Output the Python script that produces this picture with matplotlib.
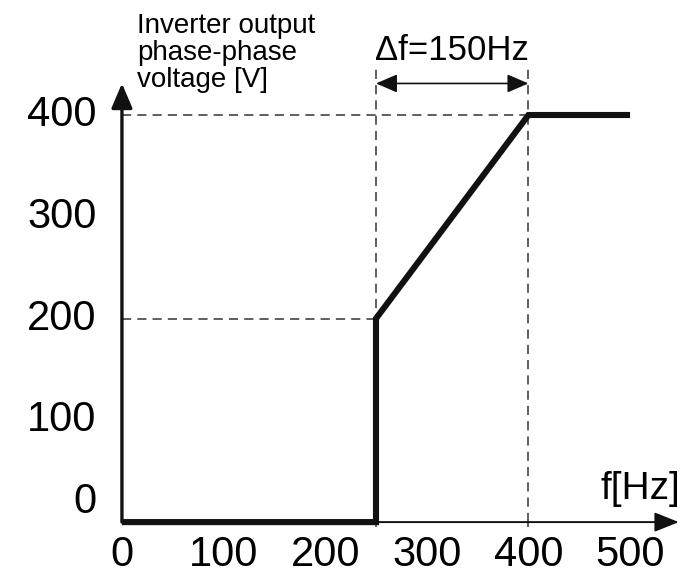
import matplotlib.pyplot as plt

plt.rcParams['font.family'] = ['Liberation Sans', 'DejaVu Sans']

# characteristic: voltage vs frequency
freq_hz = [0, 250, 250, 400, 500]
volt_v = [0, 0, 200, 400, 400]

x_ticks = [0, 100, 200, 300, 400, 500]
y_ticks = [0, 100, 200, 300, 400]
f_start, f_end = 250, 400   # delta f range
v_start, v_end = 200, 400

y_label = "Inverter output\nphase-phase\nvoltage [V]"
x_label = "f[Hz]"
delta_label = "\u0394f=150Hz"

fig = plt.figure(figsize=(6.9, 5.74), dpi=100)
ax = fig.add_axes([0, 0, 1, 1])
ax.set_xlim(-120, 559)
ax.set_ylim(-51, 513)
ax.axis('off')

dash = dict(color='#333333', lw=1.1, dashes=(6, 4))
# guide lines
ax.plot([0, f_end], [v_end, v_end], **dash)
ax.plot([0, f_start], [v_start, v_start], **dash)
ax.plot([f_start, f_start], [0, 447], **dash)
ax.plot([f_end, f_end], [0, 447], **dash)
ax.vlines([f_start, f_end], -5, 0, color='#333333', lw=1.1)

# axes with arrows
ax.annotate('', xy=(548, 0), xytext=(0, 0),
            arrowprops=dict(arrowstyle='-|>,head_length=0.75,head_width=0.3',
                            mutation_scale=20, lw=1.4, color='#111111',
                            shrinkA=0, shrinkB=0))
ax.annotate('', xy=(0, 431), xytext=(0, 0),
            arrowprops=dict(arrowstyle='-|>,head_length=0.75,head_width=0.32',
                            mutation_scale=20, lw=2.4, color='#111111',
                            shrinkA=0, shrinkB=0))

# delta f dimension arrow
ax.annotate('', xy=(f_end, 431), xytext=(f_start, 431),
            arrowprops=dict(arrowstyle='<|-|>,head_length=0.65,head_width=0.28',
                            mutation_scale=20, lw=1.2, color='#111111',
                            shrinkA=0, shrinkB=0))

ax.plot(freq_hz, volt_v, color='#111111', lw=4.4,
        solid_joinstyle='miter', solid_capstyle='butt')

# tick labels
for v in x_ticks:
    ax.text(v, -32, str(v), fontsize=30, ha='center', va='center')
for v in y_ticks:
    yy = v + 20 if v == 0 else v
    ax.text(-25, yy, str(v), fontsize=30, ha='right', va='center')

ax.text(549, 23, x_label, fontsize=28, ha='right', va='baseline')
ax.text(325, 454, delta_label, fontsize=25, ha='center', va='baseline')
ax.text(15, 500, y_label, fontsize=20, ha='left', va='top', linespacing=1.05)

fig.savefig('out.png', dpi=100)
